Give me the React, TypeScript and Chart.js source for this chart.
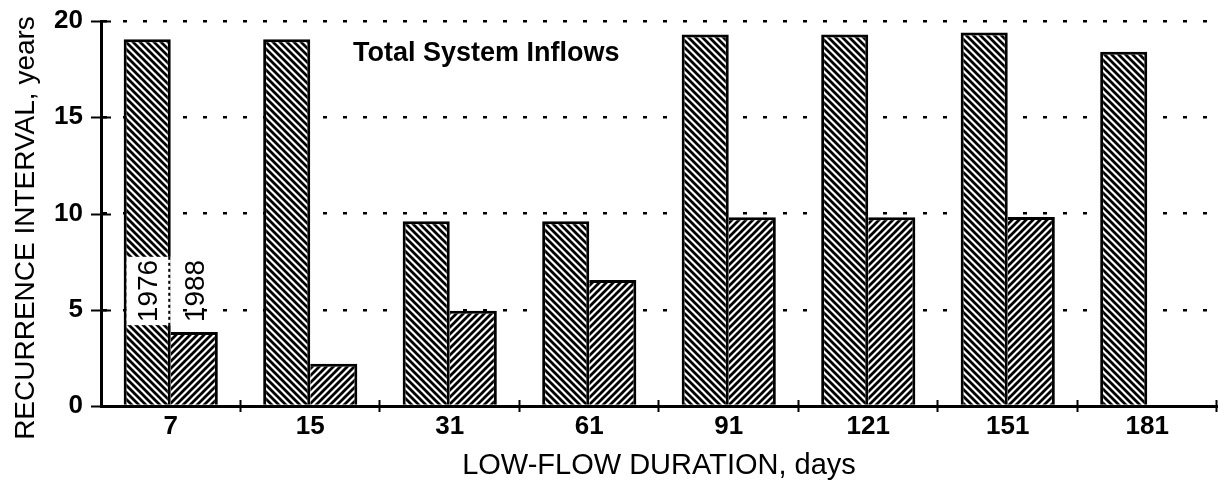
import React, { useEffect, useRef } from 'react';
import { Chart, registerables } from 'chart.js';
Chart.register(...registerables);

const categories = ['7', '15', '31', '61', '91', '121', '151', '181'];
const series1976 = [19.05, 19.05, 9.6, 9.6, 19.3, 19.3, 19.4, 18.4];
const series1988 = [3.85, 2.2, 4.95, 6.55, 9.8, 9.8, 9.82, null];
const yTickValues = [0, 5, 10, 15, 20];
const chartTitle = 'Total System Inflows';
const xTitle = 'LOW-FLOW DURATION, days';
const yTitle = 'RECURRENCE INTERVAL, years';
const seriesNames = ['1976', '1988'];
const labelBoxRange = [4.2, 7.75];

const FONT = '"Liberation Sans", Arial, sans-serif';

function makeHatch(dir: number): CanvasPattern {
  const s = 7;
  const c = document.createElement('canvas');
  c.width = s;
  c.height = s;
  const g = c.getContext('2d')!;
  g.fillStyle = '#fff';
  g.fillRect(0, 0, s, s);
  g.strokeStyle = '#000';
  g.lineWidth = 2.8;
  g.beginPath();
  for (let k = -1; k <= 1; k++) {
    if (dir === 1) {
      g.moveTo(-1, -1 + k * s);
      g.lineTo(s + 1, s + 1 + k * s);
    } else {
      g.moveTo(-1, s + 1 + k * s);
      g.lineTo(s + 1, -1 + k * s);
    }
  }
  g.stroke();
  return g.createPattern(c, 'repeat')!;
}

const decor = {
  id: 'decor',
  afterDraw(chart: any) {
    const { ctx, chartArea: a, scales } = chart;
    const x = scales.x;
    const y = scales.y;
    ctx.save();
    ctx.strokeStyle = '#000';
    ctx.fillStyle = '#000';
    // y-axis cross ticks
    ctx.lineWidth = 2;
    yTickValues.forEach((v) => {
      const py = Math.round(y.getPixelForValue(v)) + 0.5;
      ctx.beginPath();
      ctx.moveTo(a.left - 10, py);
      ctx.lineTo(a.left + 10, py);
      ctx.stroke();
    });
    // x-axis cross ticks at category boundaries
    const half = (x.getPixelForValue(1) - x.getPixelForValue(0)) / 2;
    for (let i = 0; i < categories.length; i++) {
      const px = Math.round(x.getPixelForValue(i) + half) - 0.5;
      ctx.beginPath();
      ctx.moveTo(px, a.bottom - 6);
      ctx.lineTo(px, a.bottom + 6);
      ctx.stroke();
    }
    // series labels on first group
    const bar0 = chart.getDatasetMeta(0).data[0];
    const bar1 = chart.getDatasetMeta(1).data[0];
    const yTop = y.getPixelForValue(labelBoxRange[1]);
    const yBot = y.getPixelForValue(labelBoxRange[0]);
    const left0 = bar0.x - bar0.width / 2 + 3;
    const right0 = bar0.x + bar0.width / 2;
    ctx.fillStyle = '#fff';
    ctx.fillRect(left0, yTop, right0 - left0, yBot - yTop);
    ctx.save();
    ctx.setLineDash([3, 3]);
    ctx.lineWidth = 2;
    ctx.beginPath();
    ctx.moveTo(right0 - 1.5, yTop);
    ctx.lineTo(right0 - 1.5, yBot);
    ctx.stroke();
    ctx.restore();
    ctx.fillStyle = '#000';
    ctx.font = `28px ${FONT}`;
    ctx.textAlign = 'center';
    ctx.textBaseline = 'middle';
    const cy = (yTop + yBot) / 2;
    [[bar0.x + 1, seriesNames[0]], [bar1.x + 1, seriesNames[1]]].forEach(([px, t]: any) => {
      ctx.save();
      ctx.translate(px, cy);
      ctx.rotate(-Math.PI / 2);
      ctx.fillText(t, 0, 1);
      ctx.restore();
    });
    // chart title
    ctx.font = `bold 27px ${FONT}`;
    ctx.textAlign = 'left';
    ctx.textBaseline = 'alphabetic';
    ctx.fillText(chartTitle, 353, 61);
    // x title
    ctx.font = `29px ${FONT}`;
    ctx.textAlign = 'center';
    ctx.textBaseline = 'middle';
    ctx.fillText(xTitle, (a.left + a.right) / 2, 466);
    // y title
    ctx.save();
    ctx.translate(26, 228);
    ctx.rotate(-Math.PI / 2);
    ctx.font = `28px ${FONT}`;
    ctx.fillText(yTitle, 0, 0);
    ctx.restore();
    ctx.restore();
  },
};

export default function App() {
  const ref = useRef<HTMLCanvasElement>(null);
  useEffect(() => {
    document.body.style.margin = '0';
    const p1976 = makeHatch(1);
    const p1988 = makeHatch(-1);
    const chart = new Chart(ref.current!, {
      type: 'bar',
      data: {
        labels: categories,
        datasets: [
          {
            label: seriesNames[0],
            data: series1976,
            backgroundColor: p1976,
            borderColor: '#000',
            borderWidth: { top: 3, left: 3, right: 3, bottom: 0 },
            borderSkipped: false,
            categoryPercentage: 0.675,
            barPercentage: 1,
          },
          {
            label: seriesNames[1],
            data: series1988,
            backgroundColor: p1988,
            borderColor: '#000',
            borderWidth: { top: 3, left: 0, right: 3, bottom: 0 },
            borderSkipped: false,
            categoryPercentage: 0.675,
            barPercentage: 1,
          },
        ],
      } as any,
      options: {
        animation: false,
        responsive: true,
        maintainAspectRatio: false,
        layout: { padding: { top: 21, right: 2, left: 0, bottom: 0 } },
        plugins: { legend: { display: false }, tooltip: { enabled: false }, title: { display: false } },
        scales: {
          x: {
            grid: { display: false, drawTicks: false },
            border: { display: true, color: '#000', width: 3 },
            ticks: { color: '#000', padding: 5, font: { family: FONT, size: 26, weight: 'bold' } },
            afterFit: (s: any) => { s.height = 76; },
          },
          y: {
            min: 0,
            max: 20,
            grid: { display: true, drawTicks: false, color: '#000', lineWidth: 2.5 },
            border: { display: true, color: '#000', width: 3, dash: [4, 16] },
            ticks: {
              stepSize: 5,
              color: '#000',
              padding: 18,
              font: { family: FONT, size: 26, weight: 'bold' },
            },
            afterFit: (s: any) => {
              s.width = 101;
              s.paddingTop = 0;
              s.paddingBottom = 0;
            },
          },
        },
      } as any,
      plugins: [decor],
    });
    return () => chart.destroy();
  }, []);
  return (
    <div style={{ width: 1219, height: 482, position: 'relative' }}>
      <canvas ref={ref} />
    </div>
  );
}
